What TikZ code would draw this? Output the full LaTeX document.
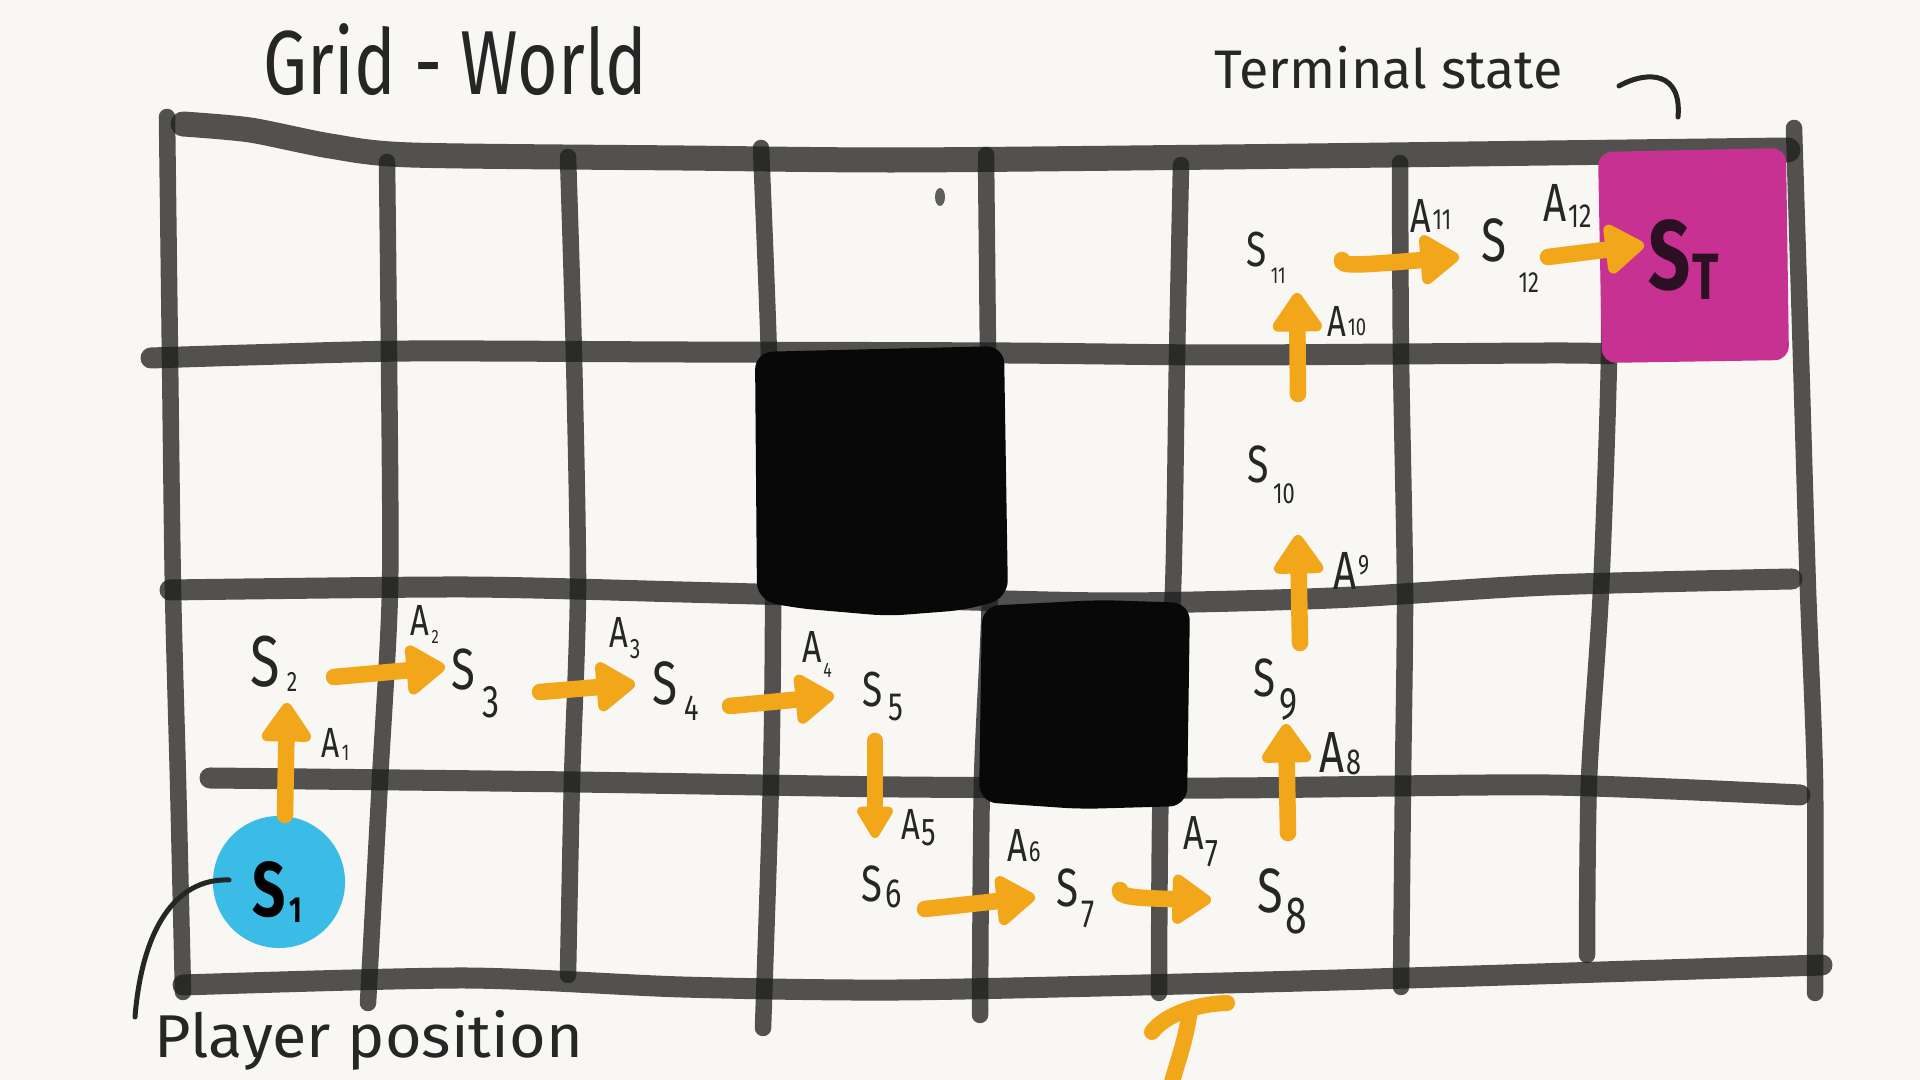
\documentclass[tikz,border=0pt]{standalone}
\usepackage{fontspec}
\usepackage{graphicx}
\setmainfont{Fira Sans}
\usetikzlibrary{arrows.meta}
\definecolor{bg}{RGB}{248,247,243}
\definecolor{ink}{RGB}{30,30,30}
\definecolor{txt}{RGB}{38,38,38}
\definecolor{org}{RGB}{242,166,26}
\definecolor{mag}{RGB}{199,49,145}
\definecolor{cyn}{RGB}{58,188,230}
\definecolor{blk}{RGB}{8,8,8}
\definecolor{stT}{RGB}{45,15,35}
% letter, size, subsize, raise, kern, sub
\newcommand\hwl[6]{\scalebox{0.75}[1]{\fontsize{#2pt}{#2pt}\selectfont #1\kern#5pt\raisebox{#4pt}{\fontsize{#3pt}{#3pt}\selectfont #6}}}
\begin{document}
\begin{tikzpicture}[x=0.01cm,y=-0.01cm,
  gl/.style={draw=ink, draw opacity=0.76, line width=0.165cm, line cap=round, line join=round},
  glh/.style={gl, line width=0.21cm},
  lab/.style={anchor=base west, inner sep=0pt, text=txt},
  bigtxt/.style={anchor=north west, inner sep=0pt, text=txt},
  act/.style={draw=org, line width=0.165cm, line cap=round, -{Triangle[width=0.56cm,length=0.43cm,round]}},
  pen/.style={draw=txt, line width=0.05cm, line cap=round}]
\useasboundingbox (0,0) rectangle (1920,1080);
\fill[bg] (0,0) rectangle (1920,1080);

% grid horizontals
\draw[glh, line width=0.25cm] plot[smooth, tension=0.45] coordinates {(183,124) (250,130) (330,146) (411,155) (682,158) (899,160) (1224,157) (1549,153) (1788,150)};
\draw[glh] plot[smooth, tension=0.45] coordinates {(151,358) (248,355) (411,351) (682,352) (1007,353) (1224,355) (1549,353) (1610,354)};
\draw[glh] plot[smooth, tension=0.45] coordinates {(170,590) (465,587) (682,592) (899,598) (1116,603) (1332,598) (1549,585) (1792,579)};
\draw[glh] plot[smooth, tension=0.45] coordinates {(210,778) (574,782) (899,787) (1224,788) (1549,785) (1800,795)};
\draw[glh] plot[smooth, tension=0.45] coordinates {(183,985) (465,978) (682,987) (899,990) (1224,983) (1441,977) (1822,965)};
% grid verticals
\draw[gl] plot[smooth, tension=0.45] coordinates {(167,117) (170,357) (173,590) (178,780) (183,992)};
\draw[gl] plot[smooth, tension=0.45] coordinates {(387,162) (389,357) (390,590) (380,780) (368,1003)};
\draw[gl] plot[smooth, tension=0.45] coordinates {(568,157) (574,357) (578,590) (572,780) (568,975)};
\draw[gl] plot[smooth, tension=0.45] coordinates {(761,148) (769,357) (773,590) (771,780) (763,1028)};
\draw[gl] plot[smooth, tension=0.45] coordinates {(986,155) (988,357) (990,590) (982,780) (980,1015)};
\draw[gl] plot[smooth, tension=0.45] coordinates {(1181,165) (1177,357) (1173,590) (1161,780) (1159,993)};
\draw[gl] plot[smooth, tension=0.45] coordinates {(1400,163) (1401,357) (1405,590) (1403,780) (1401,987)};
\draw[gl] plot[smooth, tension=0.45] coordinates {(1608,165) (1609,357) (1601,590) (1589,780) (1587,955)};

% blocked cells
\fill[blk, rounded corners=5pt] (755,352) -- (1004,346) -- (1008,598) -- (965,610) -- (888,616) -- (795,608) -- (757,600) -- cycle;
\fill[blk, rounded corners=5pt] (982,606) -- (1100,600) -- (1190,603) -- (1187,806) -- (1080,809) -- (979,802) -- cycle;
% terminal cell
\fill[mag, rounded corners=4pt] (1598,152) -- (1786,148) -- (1789,360) -- (1602,363) -- cycle;
\draw[gl] plot[smooth, tension=0.45] coordinates {(1794,128) (1801,357) (1808,590) (1815,780) (1815,993)};

% stray dot
\fill[ink, opacity=0.7] (940,197) ellipse [x radius=5, y radius=9];

% player
\node[circle, fill=cyn, minimum size=1.32cm, inner sep=0pt] (p1) at (279,882) {};

% titles
\node[bigtxt] (title) at (263,23) {\resizebox*{3.83cm}{0.72cm}{Grid - World}};
\node[bigtxt] (term) at (1214,45) {\resizebox*{3.48cm}{0.43cm}{Terminal state}};
\node[bigtxt] (player) at (154,1010) {\resizebox*{4.28cm}{0.60cm}{Player position}};

% pointers
\coordinate (hk1) at (1619,86);
\coordinate (hk2) at (1678,117);
\draw[pen] (hk1) .. controls (1648,70) and (1682,72) .. (hk2);
\coordinate (pp1) at (229,880);
\coordinate (pp2) at (135,1017);
\draw[pen] (pp1) .. controls (175,878) and (142,930) .. (pp2);

% states
\node[lab, text=black] (s1) at (252,917) {\bfseries\hwl{S}{22}{10.3}{-1.7}{1.5}{1}};
\node[lab] (s2) at (250,687) {\hwl{S}{20.5}{8}{-1.4}{2.5}{2}};
\node[lab] (s3) at (451,690) {\hwl{S}{16.5}{13}{-7.7}{2.5}{3}};
\node[lab] (s4) at (652,705) {\hwl{S}{17.4}{10.3}{-4.3}{2.5}{4}};
\node[lab] (s5) at (862,707) {\hwl{S}{14}{11.2}{-3.7}{2}{5}};
\node[lab] (s6) at (861,902) {\hwl{S}{14.5}{11.6}{-1.7}{1}{6}};
\node[lab] (s7) at (1056,907) {\hwl{S}{15.3}{11.2}{-5.7}{1}{7}};
\node[lab] (s8) at (1257,913) {\hwl{S}{17.8}{14.9}{-5.7}{1}{8}};
\node[lab] (s9) at (1253,697) {\hwl{S}{15.3}{13}{-6.5}{1.5}{9}};
\node[lab] (s10) at (1247,483) {\hwl{S}{14.9}{8.3}{-5.7}{1.5}{10}};
\node[lab] (s11) at (1246,267) {\hwl{S}{14}{6.6}{-4.6}{1.5}{11}};
\node[lab] (s12) at (1481,262) {\hwl{S}{17.4}{8.3}{-8.8}{4.5}{12}};
\node[lab, text=stT] (sT) at (1648,290) {\bfseries\hwl{S}{28}{18.6}{-2.8}{0.5}{T}};

% actions labels
\node[lab] (l1) at (321,758) {\hwl{A}{12}{6.5}{-0.6}{0.8}{1}};
\node[lab] (l2) at (410,636) {\hwl{A}{12.4}{5.5}{-2}{0.8}{2}};
\node[lab] (l3) at (609,648) {\hwl{A}{12.4}{8}{-3}{0.5}{3}};
\node[lab] (l4) at (802,663) {\hwl{A}{12.8}{6}{-4}{0.5}{4}};
\node[lab] (l5) at (901,840) {\hwl{A}{12.4}{11}{-1.5}{0.5}{5}};
\node[lab] (l6) at (1007,862) {\hwl{A}{13.2}{8.3}{0}{0.5}{6}};
\node[lab] (l7) at (1183,850) {\hwl{A}{13.6}{11}{-4.8}{0.5}{7}};
\node[lab] (l8) at (1319,773) {\hwl{A}{16.5}{10.3}{-0.5}{0.8}{8}};
\node[lab] (l9) at (1333,590) {\hwl{A}{15.3}{8}{4.3}{0.5}{9}};
\node[lab] (l10) at (1327,337) {\hwl{A}{12.4}{7}{0.5}{0.5}{10}};
\node[lab] (l11) at (1410,233) {\hwl{A}{13.6}{8.3}{0.9}{0.5}{11}};
\node[lab] (l12) at (1543,222) {\hwl{A}{15.3}{9.5}{-1.7}{0.5}{12}};

% action arrows
\coordinate (t1) at (285,815);   \coordinate (h1) at (287,703);
\coordinate (t2) at (334,677);   \coordinate (h2) at (445,667);
\coordinate (t3) at (540,692);   \coordinate (h3) at (635,684);
\coordinate (t4) at (730,706);   \coordinate (h4) at (834,696);
\coordinate (t5) at (875,741);   \coordinate (h5) at (875,838);
\coordinate (t6) at (925,909);   \coordinate (h6) at (1035,897);
\coordinate (t7) at (1120,890);  \coordinate (h7) at (1211,900);
\coordinate (t8) at (1288,833);  \coordinate (h8) at (1286,724);
\coordinate (t9) at (1300,643);  \coordinate (h9) at (1298,535);
\coordinate (t10) at (1298,394); \coordinate (h10) at (1297,293);
\coordinate (t11) at (1342,260); \coordinate (h11) at (1459,257);
\coordinate (t12) at (1548,257); \coordinate (h12) at (1644,245);
\draw[act] (t1) -- (h1);
\draw[act] (t2) -- (h2);
\draw[act] (t3) -- (h3);
\draw[act] (t4) -- (h4);
\draw[act, -{Triangle[width=0.4cm,length=0.36cm,round]}] (t5) -- (h5);
\draw[act] (t6) -- (h6);
\draw[act] (t7) .. controls (1120,896) and (1128,898) .. (h7);
\draw[act] (t8) -- (h8);
\draw[act] (t9) -- (h9);
\draw[act] (t10) -- (h10);
\draw[act] (t11) .. controls (1342,266) and (1350,266) .. (h11);
\draw[act] (t12) -- (h12);

% orange stroke below grid
\coordinate (j1) at (1227,1003);
\coordinate (j2) at (1152,1032);
\coordinate (j3) at (1190,1010);
\coordinate (j4) at (1172,1082);
\draw[draw=org, line width=0.16cm, line cap=round] (j1) .. controls (1195,1004) and (1165,1015) .. (j2);
\draw[draw=org, line width=0.16cm, line cap=round] (j3) .. controls (1186,1040) and (1178,1060) .. (j4);
\end{tikzpicture}
\end{document}
